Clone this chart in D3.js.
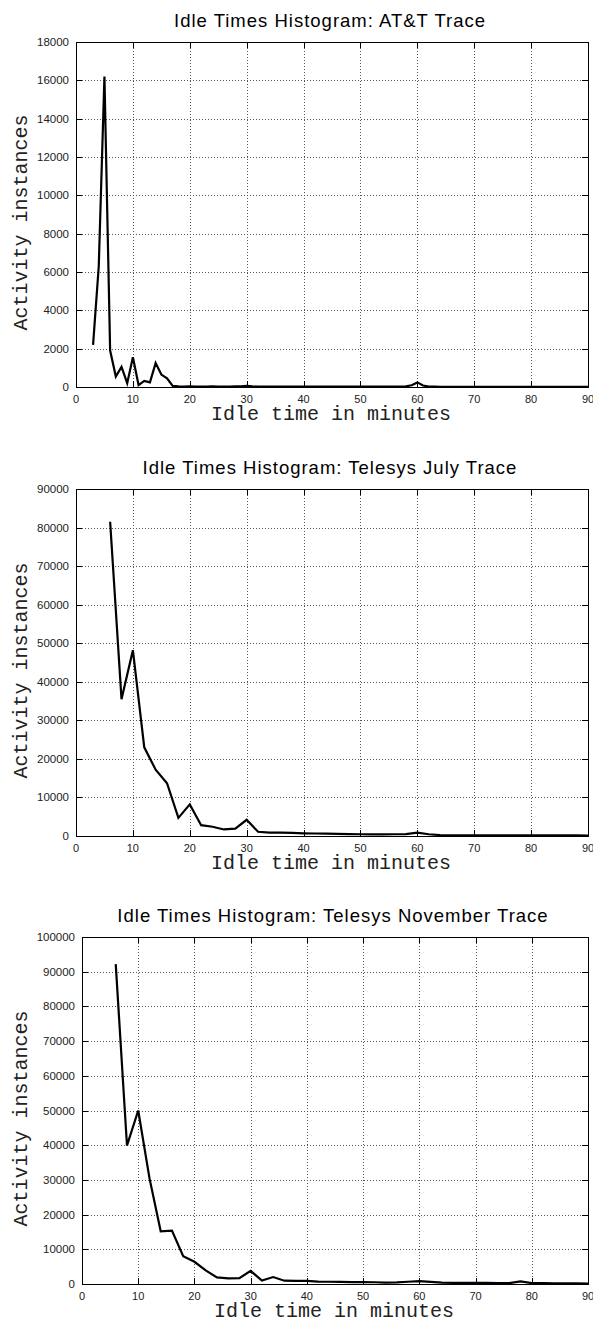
<!DOCTYPE html>
<html>
<head>
<meta charset="utf-8">
<script src="https://cdn.jsdelivr.net/npm/d3@7"></script>
<style>
  html, body { margin: 0; padding: 0; background: #fff; }
  svg { display: block; }
</style>
</head>
<body>
<svg id="chart" width="593" height="1319"></svg>
<script>
// ---- AT&T trace: one bin per minute, 3..90 ----
const attMinutes = [3,4,5,6,7,8,9,10,11,12,13,14,15,16,17,18,19,20,21,22,23,24,25,26,27,28,29,30,
  31,32,33,34,35,36,37,38,39,40,41,42,43,44,45,46,47,48,49,50,51,52,53,54,55,56,57,58,59,60,
  61,62,63,64,65,66,67,68,69,70,71,72,73,74,75,76,77,78,79,80,81,82,83,84,85,86,87,88,89,90];
const attCounts = [2200,6300,16200,1900,550,1050,200,1550,100,320,240,1250,650,450,60,30,25,30,20,25,20,30,20,25,20,30,35,60,
  30,25,20,20,15,20,15,20,15,20,15,15,20,15,20,25,15,15,20,15,15,20,15,15,20,15,20,30,90,240,
  80,20,15,12,12,10,12,10,12,10,12,10,10,12,10,10,12,10,10,10,10,10,10,10,10,10,10,10,10,10];

// ---- Telesys traces: one bin per two minutes, 6..90 ----
const telesysMinutes = [6,8,10,12,14,16,18,20,22,24,26,28,30,32,34,36,38,40,42,44,46,48,50,
  52,54,56,58,60,62,64,66,68,70,72,74,76,78,80,82,84,86,88,90];
const julyCounts = [81500,35500,48200,23000,17200,13700,4700,8200,2800,2400,1700,1900,4200,1100,900,850,800,700,650,600,550,500,450,
  400,400,450,500,850,450,250,200,200,200,180,180,170,170,160,150,150,140,140,130];
const novemberCounts = [92200,39900,50000,30500,15200,15400,8000,6400,3900,1900,1600,1700,3800,1000,2000,950,900,900,700,650,600,550,550,
  500,400,450,650,800,600,400,350,300,300,300,250,250,750,250,250,200,200,180,150];

// ---- axis ticks ----
const xTicks = [0,10,20,30,40,50,60,70,80,90];
const attYTicks = [0,2000,4000,6000,8000,10000,12000,14000,16000,18000];
const julyYTicks = [0,10000,20000,30000,40000,50000,60000,70000,80000,90000];
const novemberYTicks = [0,10000,20000,30000,40000,50000,60000,70000,80000,90000,100000];

const titles = [
  "Idle Times Histogram: AT&T Trace",
  "Idle Times Histogram: Telesys July Trace",
  "Idle Times Histogram: Telesys November Trace"
];
const xTitle = "Idle time in minutes";
const yTitle = "Activity instances";

const panels = [
  { title: titles[0], xs: attMinutes, ys: attCounts, yTicks: attYTicks, top: 42, bottom: 387, left: 76 },
  { title: titles[1], xs: telesysMinutes, ys: julyCounts, yTicks: julyYTicks, top: 489, bottom: 836, left: 76 },
  { title: titles[2], xs: telesysMinutes, ys: novemberCounts, yTicks: novemberYTicks, top: 937, bottom: 1284, left: 82 }
];

const svg = d3.select("#chart");
const right = 588;
const tickLen = 6;
const sans = "'Liberation Sans', Arial, Helvetica, sans-serif";
const mono = "'Liberation Mono', 'Courier New', monospace";

panels.forEach(p => {
  const top = p.top, bottom = p.bottom;
  const x = d3.scaleLinear().domain([0, 90]).range([p.left, right]);
  const yMax = p.yTicks[p.yTicks.length - 1];
  const y = d3.scaleLinear().domain([0, yMax]).range([bottom, top]);
  const g = svg.append("g");

  // dotted grid
  g.append("g").selectAll("line")
    .data(xTicks.slice(1, -1)).join("line")
    .attr("x1", d => Math.round(x(d)) + 0.5).attr("x2", d => Math.round(x(d)) + 0.5)
    .attr("y1", top).attr("y2", bottom)
    .attr("stroke", "#555").attr("stroke-width", 1).attr("stroke-dasharray", "1,2");
  g.append("g").selectAll("line")
    .data(p.yTicks.slice(1, -1)).join("line")
    .attr("x1", p.left).attr("x2", right)
    .attr("y1", d => Math.round(y(d)) + 0.5).attr("y2", d => Math.round(y(d)) + 0.5)
    .attr("stroke", "#555").attr("stroke-width", 1).attr("stroke-dasharray", "1,2");

  // inward tick marks on all four sides
  const tg = g.append("g").attr("stroke", "#000").attr("stroke-width", 1);
  xTicks.forEach(d => {
    const xx = Math.round(x(d)) + 0.5;
    tg.append("line").attr("x1", xx).attr("x2", xx).attr("y1", bottom).attr("y2", bottom - tickLen);
    tg.append("line").attr("x1", xx).attr("x2", xx).attr("y1", top).attr("y2", top + tickLen);
  });
  p.yTicks.forEach(d => {
    const yy = Math.round(y(d)) + 0.5;
    tg.append("line").attr("x1", p.left).attr("x2", p.left + tickLen).attr("y1", yy).attr("y2", yy);
    tg.append("line").attr("x1", right).attr("x2", right - tickLen).attr("y1", yy).attr("y2", yy);
  });

  // frame
  g.append("rect")
    .attr("x", p.left + 0.5).attr("y", top + 0.5)
    .attr("width", right - p.left).attr("height", bottom - top)
    .attr("fill", "none").attr("stroke", "#000").attr("stroke-width", 1);

  // tick labels
  g.append("g").selectAll("text")
    .data(xTicks).join("text")
    .attr("x", d => x(d)).attr("y", bottom + 16)
    .attr("text-anchor", "middle")
    .attr("font-family", sans).attr("font-size", 11).attr("fill", "#222")
    .text(d => d);
  g.append("g").selectAll("text")
    .data(p.yTicks).join("text")
    .attr("x", p.left - 7).attr("y", d => y(d) + 4)
    .attr("text-anchor", "end")
    .attr("font-family", sans).attr("font-size", 11.5).attr("fill", "#222")
    .text(d => d);

  // series line
  const line = d3.line().x(d => x(d[0])).y(d => y(d[1]));
  g.append("path")
    .datum(d3.zip(p.xs, p.ys))
    .attr("d", line)
    .attr("fill", "none").attr("stroke", "#000")
    .attr("stroke-width", 2.2).attr("stroke-linejoin", "miter");

  // titles
  const cx = (p.left + right) / 2;
  g.append("text")
    .attr("x", cx - 2).attr("y", top - 15.5)
    .attr("text-anchor", "middle")
    .attr("font-family", sans).attr("font-size", 18.5).attr("letter-spacing", 1)
    .attr("fill", "#000")
    .text(p.title);
  g.append("text")
    .attr("x", cx - 1).attr("y", bottom + 32.5)
    .attr("text-anchor", "middle")
    .attr("font-family", mono).attr("font-size", 20).attr("fill", "#222")
    .text(xTitle);
  g.append("text")
    .attr("transform", "translate(27," + ((top + bottom) / 2 + 8) + ") rotate(-90)")
    .attr("text-anchor", "middle")
    .attr("font-family", mono).attr("font-size", 20).attr("fill", "#222")
    .text(yTitle);
});
</script>
</body>
</html>
